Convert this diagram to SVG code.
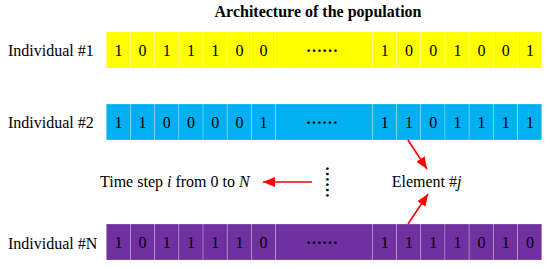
<svg xmlns="http://www.w3.org/2000/svg" width="550" height="269" viewBox="0 0 550 269">
<style>
text{font-family:"Liberation Serif","Times New Roman",serif;font-size:16px;fill:#000}
.title{font-weight:bold}
.d{text-anchor:middle}
.dots{font-weight:bold}
.cell{stroke:#ffffff;stroke-opacity:0.3;stroke-width:0.8}
.y{fill:#FFFF00}
.b{fill:#00B0F0}
.p{fill:#7030A0}
.arr{stroke:#FF0000;stroke-width:1.6;fill:none;marker-end:url(#ah)}
</style>
<defs>
<marker id="ah" markerUnits="userSpaceOnUse" markerWidth="13" markerHeight="10" refX="12" refY="5" orient="auto">
<path d="M0,0 L12,5 L0,10 Z" fill="#FF0000"/>
</marker>
<g id="row">
<rect class="cell" x="0" y="0" width="24.19" height="36"/>
<rect class="cell" x="24.19" y="0" width="24.19" height="36"/>
<rect class="cell" x="48.38" y="0" width="24.19" height="36"/>
<rect class="cell" x="72.57" y="0" width="24.19" height="36"/>
<rect class="cell" x="96.76" y="0" width="24.19" height="36"/>
<rect class="cell" x="120.95" y="0" width="24.19" height="36"/>
<rect class="cell" x="145.14" y="0" width="24.19" height="36"/>
<rect class="cell" x="169.33" y="0" width="96.76" height="36"/>
<rect class="cell" x="266.09" y="0" width="24.19" height="36"/>
<rect class="cell" x="290.28" y="0" width="24.19" height="36"/>
<rect class="cell" x="314.47" y="0" width="24.19" height="36"/>
<rect class="cell" x="338.66" y="0" width="24.19" height="36"/>
<rect class="cell" x="362.85" y="0" width="24.19" height="36"/>
<rect class="cell" x="387.04" y="0" width="24.19" height="36"/>
<rect class="cell" x="411.23" y="0" width="24.19" height="36"/>
</g>
</defs>

<text class="title" x="318" y="17" text-anchor="middle">Architecture of the population</text>

<g id="individual1">
<text x="8" y="55.5">Individual #1</text>
<use href="#row" x="106.3" y="32" class="y"/>
<g class="d">
<text x="118.4" y="55.5">1</text><text x="142.6" y="55.5">0</text><text x="166.8" y="55.5">1</text><text x="191" y="55.5">1</text><text x="215.2" y="55.5">1</text><text x="239.4" y="55.5">0</text><text x="263.6" y="55.5">0</text>
<text class="dots" x="322" y="52">……</text>
<text x="384.8" y="55.5">1</text><text x="409" y="55.5">0</text><text x="433.2" y="55.5">0</text><text x="457.4" y="55.5">1</text><text x="481.6" y="55.5">0</text><text x="505.8" y="55.5">0</text><text x="530" y="55.5">1</text>
</g>
</g>

<g id="individual2">
<text x="8" y="127.5">Individual #2</text>
<use href="#row" x="106.3" y="104" class="b"/>
<g class="d">
<text x="118.4" y="127.5">1</text><text x="142.6" y="127.5">1</text><text x="166.8" y="127.5">0</text><text x="191" y="127.5">0</text><text x="215.2" y="127.5">0</text><text x="239.4" y="127.5">0</text><text x="263.6" y="127.5">1</text>
<text class="dots" x="322" y="124">……</text>
<text x="384.8" y="127.5">1</text><text x="409" y="127.5">1</text><text x="433.2" y="127.5">0</text><text x="457.4" y="127.5">1</text><text x="481.6" y="127.5">1</text><text x="505.8" y="127.5">1</text><text x="530" y="127.5">1</text>
</g>
</g>

<g id="individualN">
<text x="8" y="248.5">Individual #N</text>
<use href="#row" x="106.3" y="224" class="p"/>
<g class="d">
<text x="118.4" y="248">1</text><text x="142.6" y="248">0</text><text x="166.8" y="248">1</text><text x="191" y="248">1</text><text x="215.2" y="248">1</text><text x="239.4" y="248">1</text><text x="263.6" y="248">0</text>
<text class="dots" x="322" y="244">……</text>
<text x="384.8" y="248">1</text><text x="409" y="248">1</text><text x="433.2" y="248">1</text><text x="457.4" y="248">1</text><text x="481.6" y="248">0</text><text x="505.8" y="248">1</text><text x="530" y="248">0</text>
</g>
</g>

<g id="timestep">
<text x="100" y="187">Time step <tspan font-style="italic">i</tspan> from 0 to <tspan font-style="italic">N</tspan></text>
</g>

<g id="vdots">
<text class="d dots" x="0" y="0" transform="translate(325.5,182) rotate(90)">……</text>
</g>

<g id="element">
<text x="391.7" y="187">Element #<tspan font-style="italic">j</tspan></text>
</g>

<g id="connectors">
<line class="arr" x1="408" y1="140" x2="427" y2="169"/>
<line class="arr" x1="408" y1="224" x2="428" y2="194"/>
<line class="arr" x1="312" y1="182" x2="263" y2="182"/>
</g>
</svg>
